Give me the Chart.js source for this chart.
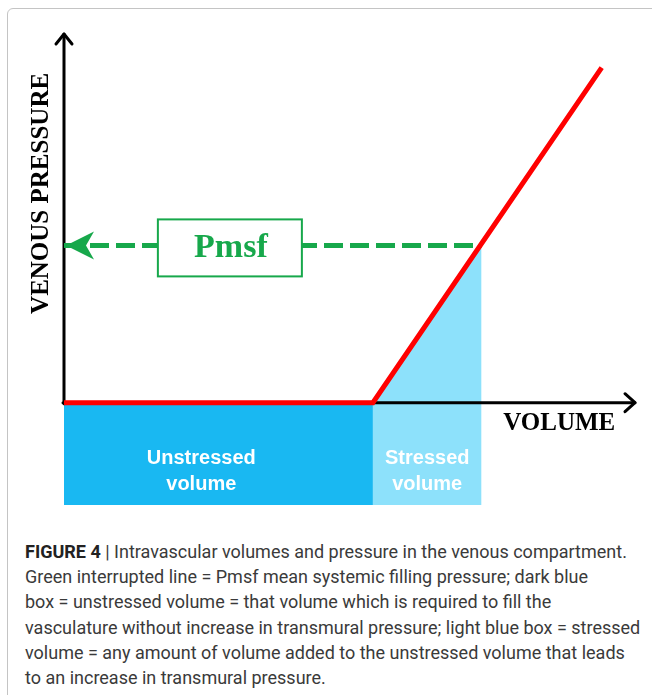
<!DOCTYPE html>
<html>
<head>
<meta charset="utf-8">
<script src="https://cdn.jsdelivr.net/npm/chart.js@4.4.0/dist/chart.umd.min.js"></script>
<style>
  html, body { margin: 0; padding: 0; background: #fff; }
  body { width: 652px; height: 695px; position: relative; overflow: hidden; }
  #frame {
    position: absolute; left: 7px; top: 8px; width: 700px; height: 720px;
    border: 1px solid #c4c4c4; border-radius: 6px; box-sizing: border-box;
  }
  #grafica { position: absolute; left: 0; top: 0; }
  #caption {
    position: absolute; left: 25px; top: 539px;
    font-family: "Liberation Sans Narrow", "Roboto", sans-serif;
    font-size: 18px; line-height: 25.2px; color: #3a3a3a; white-space: nowrap;
  }
  #caption b { color: #222; }
</style>
</head>
<body>
<div id="frame"></div>
<canvas id="grafica" width="652" height="520"></canvas>
<div id="caption">
  <b>FIGURE 4</b> | Intravascular volumes and pressure in the venous compartment.<br>
  Green interrupted line = Pmsf mean systemic filling pressure; dark blue<br>
  box = unstressed volume = that volume which is required to fill the<br>
  vasculature without increase in transmural pressure; light blue box = stressed<br>
  volume = any amount of volume added to the unstressed volume that leads<br>
  to an increase in transmural pressure.
</div>
<script>
// Datos del esquema (unidades arbitrarias)
const curveVolume = [0, 54, 94];        // volumen en la curva roja
const curvePressure = [0, 0, 21.3];     // presión venosa en la curva roja
const unstressedVolume = 54;            // fin del volumen no estresado
const pmsfVolume = 73;                  // volumen total en Pmsf
const pmsf = 10;                        // presión media de llenado sistémico
const boxLabels = [["Unstressed", "volume"], ["Stressed", "volume"]];
const pmsfLabel = "Pmsf";
const axisTitles = ["VOLUME", "VENOUS PRESSURE"];

const GREEN = "#17a84b";
const RED = "#ff0000";
const DARK_BLUE = "#19b8f2";
const LIGHT_BLUE = "#8de1fb";

const curvePoints = curveVolume.map((v, i) => ({ x: v, y: curvePressure[i] }));

// Dibuja los ejes con flechas
function drawAxes(chart) {
  const xs = chart.scales.x, ys = chart.scales.y, c = chart.ctx;
  const x0 = xs.getPixelForValue(0), y0 = ys.getPixelForValue(0);
  const xEnd = xs.getPixelForValue(xs.max), yTop = ys.getPixelForValue(ys.max);
  c.save();
  c.strokeStyle = "#000";
  c.lineWidth = 3;
  c.lineCap = "round";
  c.lineJoin = "round";
  c.beginPath();
  c.moveTo(x0, y0 + 1); c.lineTo(x0, yTop + 1);
  c.moveTo(x0 - 1, y0); c.lineTo(xEnd - 1, y0);
  c.stroke();
  c.beginPath();
  c.moveTo(x0 - 8, yTop + 11); c.lineTo(x0, yTop + 1); c.lineTo(x0 + 8, yTop + 11);
  c.moveTo(xEnd - 11, y0 - 9); c.lineTo(xEnd - 1, y0); c.lineTo(xEnd - 11, y0 + 9);
  c.stroke();
  c.restore();
}

const overlay = {
  id: "overlay",
  beforeDatasetDraw(chart, args) {
    if (args.index === 1) drawAxes(chart);
  },
  afterDatasetsDraw(chart) {
    const xs = chart.scales.x, ys = chart.scales.y, c = chart.ctx;
    const yP = ys.getPixelForValue(pmsf);
    const x0 = xs.getPixelForValue(0);
    c.save();
    // punta de flecha verde
    c.fillStyle = GREEN;
    c.beginPath();
    c.moveTo(x0 + 2, yP);
    c.lineTo(x0 + 30, yP - 14);
    c.lineTo(x0 + 22, yP);
    c.lineTo(x0 + 30, yP + 14);
    c.closePath();
    c.fill();
    // recuadro Pmsf
    const bx = xs.getPixelForValue(29);
    c.fillStyle = "#fff";
    c.fillRect(bx - 72, yP - 26, 144, 57);
    c.strokeStyle = GREEN;
    c.lineWidth = 2;
    c.strokeRect(bx - 72, yP - 26, 144, 57);
    c.fillStyle = GREEN;
    c.font = "bold 34px 'Liberation Serif', 'DejaVu Serif', serif";
    c.textAlign = "center";
    c.textBaseline = "middle";
    c.fillText(pmsfLabel, bx + 1, yP + 3);
    // textos de las cajas
    c.fillStyle = "#fff";
    c.font = "bold 20px 'Liberation Sans', Arial, sans-serif";
    const yBot = ys.getPixelForValue(ys.min);
    const centers = [
      xs.getPixelForValue(24),
      (xs.getPixelForValue(unstressedVolume) + xs.getPixelForValue(pmsfVolume)) / 2
    ];
    boxLabels.forEach((lines, i) => {
      lines.forEach((t, j) => c.fillText(t, centers[i], yBot - 47 + j * 26));
    });
    // títulos de los ejes
    c.fillStyle = "#000";
    c.font = "bold 25px 'Liberation Serif', 'Times New Roman', serif";
    c.textAlign = "left";
    c.fillText(axisTitles[0], xs.getPixelForValue(76.8), ys.getPixelForValue(0) + 21);
    c.translate(42, ys.getPixelForValue(pmsf) - 52);
    c.rotate(-Math.PI / 2);
    c.textAlign = "center";
    c.fillText(axisTitles[1], 0, 0);
    c.restore();
  }
};

const ctx = document.getElementById("grafica").getContext("2d");
const chart = new Chart(ctx, {
  type: "line",
  data: {
    datasets: [
      {
        label: "Curva presión-volumen",
        data: curvePoints,
        borderColor: RED,
        borderWidth: 5,
        pointRadius: 0,
        fill: false
      },
      {
        label: "Pmsf",
        data: [{ x: 0, y: pmsf }, { x: pmsfVolume, y: pmsf }],
        borderColor: GREEN,
        borderWidth: 5,
        borderDash: [19, 7],
        pointRadius: 0,
        fill: false
      },
      {
        label: "Stressed volume",
        data: [{ x: unstressedVolume, y: 0 }, { x: pmsfVolume, y: pmsf }],
        borderWidth: 0,
        borderColor: "rgba(0,0,0,0)",
        backgroundColor: LIGHT_BLUE,
        pointRadius: 0,
        fill: "start"
      },
      {
        label: "Unstressed volume",
        data: [{ x: 0, y: 0 }, { x: unstressedVolume, y: 0 }],
        borderWidth: 0,
        borderColor: "rgba(0,0,0,0)",
        backgroundColor: DARK_BLUE,
        pointRadius: 0,
        fill: "start"
      }
    ]
  },
  options: {
    responsive: false,
    animation: false,
    clip: false,
    layout: { padding: { left: 64, right: 16, top: 33, bottom: 15 } },
    plugins: {
      legend: { display: false },
      tooltip: { enabled: false }
    },
    scales: {
      x: { type: "linear", min: 0, max: 100, display: false },
      y: { type: "linear", min: -6.5, max: 23.5, display: false }
    }
  },
  plugins: [overlay]
});
</script>
</body>
</html>
